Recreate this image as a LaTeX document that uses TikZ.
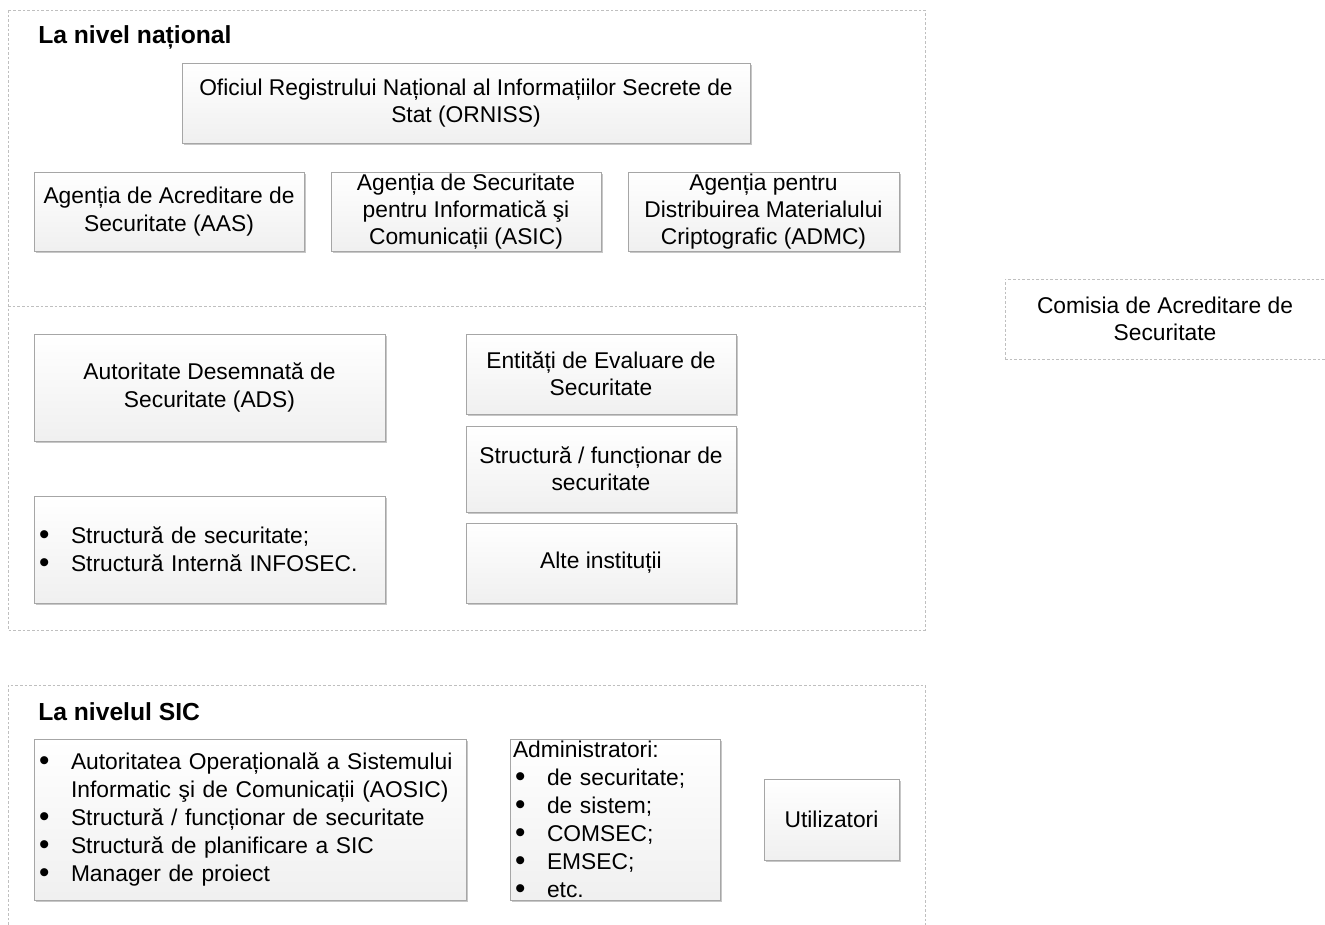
\documentclass[tikz,border=0pt]{standalone}
\usepackage{fontspec}
\setmainfont{Liberation Sans}
\usepackage{tikz}
\usetikzlibrary{shadows}

\newcommand{\bul}{\makebox[25.5pt][l]{\hspace{1.5pt}\raisebox{-0.5pt}{\scalebox{1.3}{\textbullet}}}}

\begin{document}
\begin{tikzpicture}[x=0.75pt, y=-0.75pt,
    box/.style={draw=gray!70, line width=0.6pt, top color=white, bottom color=gray!12,
        drop shadow={shadow xshift=1.6pt, shadow yshift=-1.6pt, opacity=0.22, fill=black},
        align=center, inner xsep=2pt, inner ysep=0pt, font=\fontsize{17.1}{20.5}\selectfont},
    listbox/.style={box, align=left, inner xsep=2.25pt, font=\fontsize{17.1}{21}\selectfont},
    frame/.style={draw=gray!50, line width=0.6pt, dash pattern=on 2pt off 1.5pt},
    title/.style={anchor=west, inner sep=0pt, font=\fontsize{18.5}{20}\selectfont\bfseries}]

\useasboundingbox[fill=white] (0,0) rectangle (1325,925);

% Frames
\draw[frame] (8,10) rectangle (925,630);
\draw[frame] (8,306) -- (925,306);
\draw[frame] (8,925) -- (8,685) -- (925,685) -- (925,925);

% Titles
\node (national) [title] at (38,37) {La nivel național};
\node (sic) [title] at (38,712) {La nivelul SIC};

% Nodes (national level)
\node (orniss) [box, minimum width=426pt, minimum height=60pt] at (466,103)
    {Oficiul Registrului Național al Informațiilor Secrete de\\Stat (ORNISS)};
\node (aas) [box, minimum width=202.5pt, minimum height=59.25pt] at (169,211.5)
    {Agenția de Acreditare de\\Securitate (AAS)};
\node (asic) [box, minimum width=202.5pt, minimum height=59.25pt] at (466,211.5)
    {Agenția de Securitate\\pentru Informatică şi\\Comunicații (ASIC)};
\node (admc) [box, minimum width=203.25pt, minimum height=59.25pt] at (763.5,211.5)
    {Agenția pentru\\Distribuirea Materialului\\Criptografic (ADMC)};

\node (ads) [box, minimum width=263.25pt, minimum height=80.25pt] at (209.5,387.5)
    {Autoritate Desemnată de\\Securitate (ADS)};
\node (structuri) [listbox, text width=258.75pt, minimum height=80.25pt] at (209.5,549.5)
    {\bul Structură de securitate;\\\bul Structură Internă INFOSEC.};
\node (evaluare) [box, minimum width=202.5pt, minimum height=60pt] at (601,374)
    {Entități de Evaluare de\\Securitate};
\node (functionar) [box, minimum width=202.5pt, minimum height=64.5pt] at (601,469)
    {Structură / funcționar de\\securitate};
\node (alte) [box, minimum width=202.5pt, minimum height=60pt] at (601,563)
    {Alte instituții};

\node (comisia) [frame, align=center, minimum width=240pt, minimum height=60pt,
    font=\fontsize{17.1}{20.5}\selectfont] at (1165,319)
    {Comisia de Acreditare de\\Securitate};

% Nodes (SIC level)
\node (aosic) [listbox, text width=319.5pt, minimum height=120.75pt] at (250,819.5)
    {\bul Autoritatea Operațională a Sistemului\\\hspace*{25.5pt}Informatic şi de Comunicații (AOSIC)\\
     \bul Structură / funcționar de securitate\\\bul Structură de planificare a SIC\\\bul Manager de proiect};
\node (admin) [listbox, text width=153pt, minimum height=120.75pt] at (615,819.5)
    {Administratori:\\\bul de securitate;\\\bul de sistem;\\\bul COMSEC;\\\bul EMSEC;\\\bul etc.};
\node (util) [box, minimum width=101.25pt, minimum height=60.75pt] at (831.5,819.5)
    {Utilizatori};

\end{tikzpicture}
\end{document}
